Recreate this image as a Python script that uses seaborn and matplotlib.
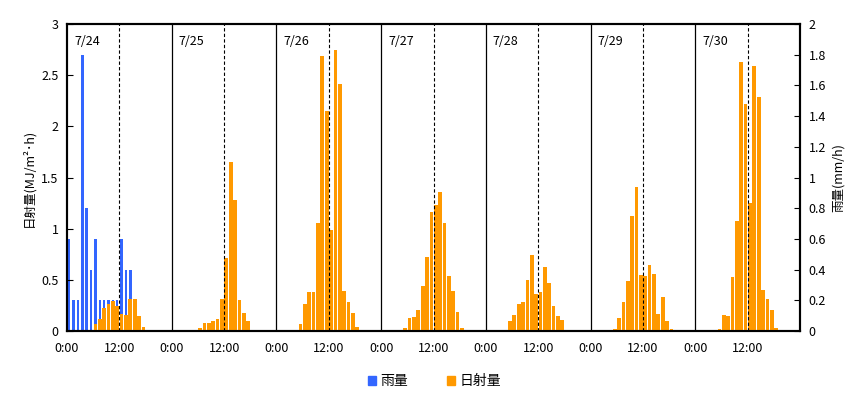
import numpy as np
import pandas as pd
import matplotlib
matplotlib.use('Agg')
import matplotlib.pyplot as plt
import seaborn as sns
from matplotlib.patches import Patch

# hourly values, one list per day (0:00 .. 23:00)
days = ['7/24', '7/25', '7/26', '7/27', '7/28', '7/29', '7/30']

solar_0724 = [0, 0, 0, 0, 0, 0, 0.07, 0.12, 0.23, 0.26, 0.29, 0.25,
              0.17, 0.16, 0.31, 0.31, 0.15, 0.04, 0, 0, 0, 0, 0, 0]
solar_0725 = [0, 0, 0, 0, 0, 0, 0.03, 0.08, 0.08, 0.10, 0.12, 0.31,
              0.71, 1.65, 1.28, 0.30, 0.18, 0.10, 0, 0, 0, 0, 0, 0]
solar_0726 = [0, 0, 0, 0, 0, 0.07, 0.26, 0.38, 0.38, 1.06, 2.69, 2.15,
              0.99, 2.75, 2.41, 0.39, 0.28, 0.18, 0.04, 0, 0, 0, 0, 0]
solar_0727 = [0, 0, 0, 0, 0, 0.03, 0.13, 0.14, 0.21, 0.44, 0.72, 1.16,
              1.23, 1.36, 1.06, 0.54, 0.39, 0.19, 0.03, 0, 0, 0, 0, 0]
solar_0728 = [0, 0, 0, 0, 0, 0.10, 0.16, 0.26, 0.28, 0.50, 0.74, 0.36,
              0.38, 0.63, 0.47, 0.25, 0.15, 0.11, 0.01, 0, 0, 0, 0, 0]
solar_0729 = [0, 0, 0, 0, 0, 0.02, 0.13, 0.28, 0.49, 1.12, 1.41, 0.55,
              0.54, 0.65, 0.56, 0.17, 0.33, 0.10, 0.02, 0, 0, 0, 0, 0]
solar_0730 = [0, 0, 0, 0, 0, 0.02, 0.16, 0.15, 0.53, 1.08, 2.63, 2.22,
              1.25, 2.59, 2.29, 0.40, 0.31, 0.21, 0.03, 0, 0, 0, 0, 0]

# rain only fell on 7/24
rain_0724 = [0.6, 0.2, 0.2, 1.8, 0.8, 0.4, 0.6, 0.2, 0.2, 0.2, 0.2, 0.2,
             0.6, 0.4, 0.4, 0, 0, 0, 0, 0, 0, 0, 0, 0]
rain_other = [0] * 24

solar = (solar_0724 + solar_0725 + solar_0726 + solar_0727 +
         solar_0728 + solar_0729 + solar_0730)
rain = rain_0724 + rain_other * 6

df = pd.DataFrame({'hour': np.arange(len(solar)), 'solar': solar, 'rain': rain})

blue = '#3366FF'
orange = '#FF9900'

plt.rcParams['font.family'] = ['Noto Sans CJK JP', 'DejaVu Sans']
fs = 9

fig = plt.figure(figsize=(8.65, 3.97), dpi=100)
ax = fig.add_axes([0.0775, 0.166, 0.8475, 0.7735])
ax2 = ax.twinx()

# rain on the right axis, drawn underneath the solar bars
sns.barplot(data=df, x='hour', y='rain', color=blue, saturation=1,
            width=0.55, errorbar=None, ax=ax2, linewidth=0)
sns.barplot(data=df, x='hour', y='solar', color=orange, saturation=1,
            width=0.85, errorbar=None, ax=ax, linewidth=0)
ax.set_zorder(ax2.get_zorder() + 1)
ax.patch.set_visible(False)

n = len(solar)
ax.set_xlim(-0.5, n - 0.5)
ax.set_ylim(0, 3)
ax2.set_ylim(0, 2)

# day separators and noon markers
for d in range(len(days)):
    start = d * 24 - 0.5
    if d > 0:
        ax.axvline(start, color='black', lw=0.9)
    ax.axvline(start + 12, color='black', lw=0.8, ls=(0, (3, 2)))
    ax.text(start + 1.6, 2.83, days[d], fontsize=fs, va='center', ha='left')

xt = []
xl = []
for d in range(len(days)):
    xt += [d * 24 - 0.5, d * 24 + 11.5]
    xl += ['0:00', '12:00']
ax.set_xticks(xt)
ax.set_xticklabels(xl, fontsize=fs)
ax.tick_params(axis='x', length=0, pad=8)

ax.set_yticks([0, 0.5, 1, 1.5, 2, 2.5, 3])
ax.set_yticklabels(['0', '0.5', '1', '1.5', '2', '2.5', '3'], fontsize=fs)
ax.tick_params(axis='y', direction='in', length=4, pad=6)
ax2.set_yticks(np.arange(0, 2.01, 0.2))
ax2.set_yticklabels(['0', '0.2', '0.4', '0.6', '0.8', '1', '1.2', '1.4',
                     '1.6', '1.8', '2'], fontsize=fs)
ax2.tick_params(axis='y', direction='in', length=4, pad=6)

ax.set_xlabel('')
ax.set_ylabel('日射量(MJ/m²･h)', fontsize=fs, labelpad=4)
ax2.set_ylabel('雨量(mm/h)', fontsize=fs, labelpad=4)

for a in (ax, ax2):
    for s in a.spines.values():
        s.set_linewidth(1.5)
        s.set_color('black')

handles = [Patch(color=blue, label='雨量'), Patch(color=orange, label='日射量')]
fig.legend(handles=handles, loc='center', bbox_to_anchor=(0.502, 0.04), ncol=2,
           frameon=False, fontsize=10, handlelength=0.6, handleheight=0.6,
           handletextpad=0.3, columnspacing=2.8)

fig.savefig('out.png', dpi=100)
plt.close(fig)
